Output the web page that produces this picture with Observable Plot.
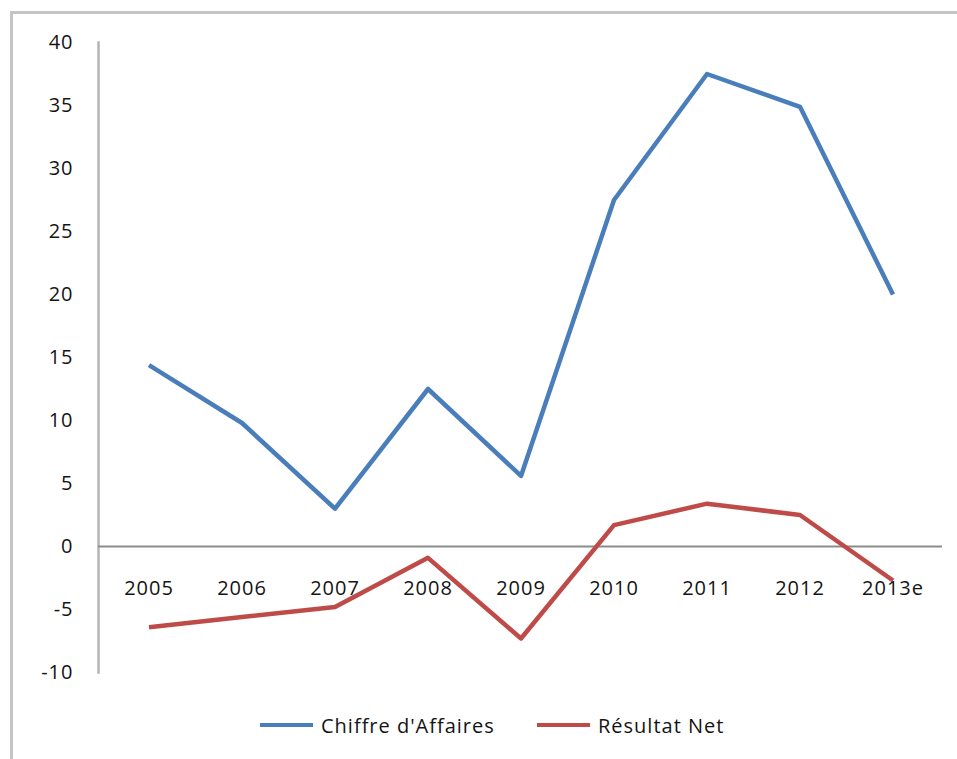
<!DOCTYPE html>
<html>
<head>
<meta charset="utf-8">
<script src="https://cdn.jsdelivr.net/npm/d3@7"></script>
<script src="https://cdn.jsdelivr.net/npm/@observablehq/plot@0.6"></script>
<style>
  html, body { margin: 0; padding: 0; background: #fff; overflow: hidden; }
  #wrap { position: relative; width: 957px; height: 759px; }
  #frame {
    position: absolute; left: 10px; top: 11px; width: 1000px; height: 800px;
    border-left: 3px solid #c4c4c4; border-top: 3px solid #c4c4c4;
    box-sizing: border-box; pointer-events: none;
  }
  #chart { position: absolute; left: 0; top: 0; }
  #chart text { letter-spacing: 1px; font-weight: 500; }
  #legend {
    position: absolute; left: 0; top: 710px; width: 957px;
    font-family: "Open Sans", sans-serif; font-size: 20px; font-weight: 500;
    color: #141414; letter-spacing: 1px;
  }
  .item { position: absolute; top: 0; display: flex; align-items: center; height: 30px; }
  .swatch { width: 53px; height: 4px; margin-right: 8px; }
</style>
</head>
<body>
<div id="wrap">
  <div id="chart"></div>
  <div id="legend"></div>
  <div id="frame"></div>
</div>
<script>
// Années (2013 = estimation)
const years = ["2005", "2006", "2007", "2008", "2009", "2010", "2011", "2012", "2013e"];
// Chiffre d'Affaires
const chiffreAffaires = [14.4, 9.8, 3.0, 12.5, 5.6, 27.5, 37.5, 34.9, 20.0];
// Résultat Net
const resultatNet = [-6.4, -5.6, -4.8, -0.9, -7.3, 1.7, 3.4, 2.5, -2.7];
const yTicks = [-10, -5, 0, 5, 10, 15, 20, 25, 30, 35, 40];

const seriesNames = ["Chiffre d'Affaires", "Résultat Net"];
const seriesColors = ["#4a7ebb", "#be4b48"];

const rows = [
  ...years.map((y, i) => ({year: y, value: chiffreAffaires[i], series: seriesNames[0]})),
  ...years.map((y, i) => ({year: y, value: resultatNet[i], series: seriesNames[1]}))
];

const font = "'Open Sans', sans-serif";
const ink = "#141414";

const chart = Plot.plot({
  width: 957,
  height: 690,
  marginLeft: 98,
  marginRight: 15,
  marginTop: 42,
  marginBottom: 18,
  style: {fontFamily: font, fontSize: "20px", color: ink, background: "transparent"},
  x: {type: "band", domain: years, padding: 0, axis: null},
  y: {domain: [-10, 40], axis: null, label: null},
  color: {domain: seriesNames, range: seriesColors},
  marks: [
    // axe vertical gris
    Plot.frame({anchor: "left", stroke: "#b4b4b4", strokeWidth: 2.5}),
    Plot.axisY(yTicks, {tickSize: 0, tickPadding: 25, fontSize: 20, fill: ink, label: null, tickFormat: d => String(d)}),
    // ligne du zéro
    Plot.ruleY([0], {stroke: "#8c8c8c", strokeWidth: 2}),
    Plot.line(rows, {x: "year", y: "value", z: "series", stroke: "series", strokeWidth: 4.5, strokeLinejoin: "round", strokeLinecap: "butt"}),
    // années sous la ligne du zéro
    Plot.text(years, {x: d => d, y: () => 0, dy: 42, text: d => d, fontSize: 20, fill: ink})
  ]
});
document.getElementById("chart").appendChild(chart);

// Légende sous le graphique
const legend = document.getElementById("legend");
const lefts = [260, 537];
seriesNames.forEach((name, i) => {
  const item = document.createElement("div");
  item.className = "item";
  item.style.left = lefts[i] + "px";
  const sw = document.createElement("span");
  sw.className = "swatch";
  sw.style.background = seriesColors[i];
  const label = document.createElement("span");
  label.textContent = name;
  item.appendChild(sw);
  item.appendChild(label);
  legend.appendChild(item);
});
</script>
</body>
</html>
